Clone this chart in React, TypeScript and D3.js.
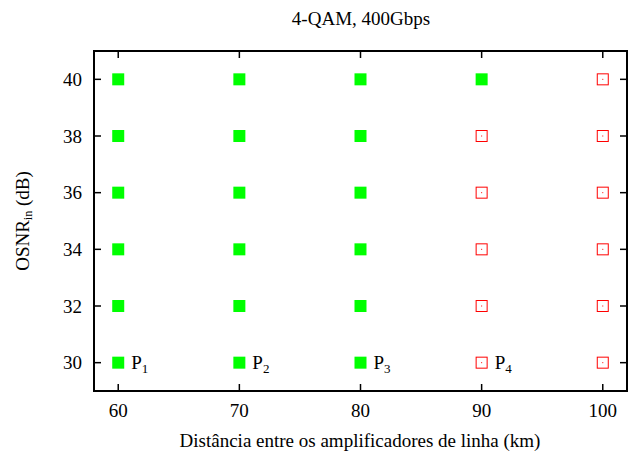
import React from "react";
import * as d3 from "d3";

const distances = [60, 70, 80, 90, 100];
const osnrLevels = [30, 32, 34, 36, 38, 40];
// lowest OSNR that still works at each distance (null = none)
const minWorkingOsnr = [30, 30, 30, 40, null];
const pointLabels = [
  { x: 60, y: 30, sub: "1" },
  { x: 70, y: 30, sub: "2" },
  { x: 80, y: 30, sub: "3" },
  { x: 90, y: 30, sub: "4" },
];

const W = 634;
const H = 452;
const margin = { top: 51, right: 7, bottom: 61, left: 94 };

export default function App() {
  const iw = W - margin.left - margin.right;
  const ih = H - margin.top - margin.bottom;
  const x = d3.scaleLinear().domain([58, 102]).range([0, iw]);
  const y = d3.scaleLinear().domain([29, 41]).range([ih, 0]);
  const font = "Liberation Serif, Times New Roman, Times, serif";
  const fs = 19;
  const s = 12;
  const tl = 7;

  const feasible: [number, number][] = [];
  const infeasible: [number, number][] = [];
  distances.forEach((dist, i) => {
    osnrLevels.forEach((o) => {
      const m = minWorkingOsnr[i];
      (m !== null && o >= m ? feasible : infeasible).push([dist, o]);
    });
  });

  return (
    <svg width={W} height={H} style={{ position: "absolute", left: 0, top: 0, fontFamily: font }}>
      <rect width={W} height={H} fill="#fff" />
      <text x={361} y={25} textAnchor="middle" fontSize={fs}>4-QAM, 400Gbps</text>
      <g transform={`translate(${margin.left},${margin.top})`}>
        {distances.map((d) => (
          <g key={d}>
            <line x1={x(d)} x2={x(d)} y1={ih} y2={ih - tl} stroke="#000" strokeWidth={1.5} />
            <line x1={x(d)} x2={x(d)} y1={0} y2={tl} stroke="#000" strokeWidth={1.5} />
            <text x={x(d)} y={ih + 26} textAnchor="middle" fontSize={fs}>{d}</text>
          </g>
        ))}
        {osnrLevels.map((o) => (
          <g key={o}>
            <line x1={0} x2={tl} y1={y(o)} y2={y(o)} stroke="#000" strokeWidth={1.5} />
            <line x1={iw} x2={iw - tl} y1={y(o)} y2={y(o)} stroke="#000" strokeWidth={1.5} />
            <text x={-12} y={y(o)} dy="0.35em" textAnchor="end" fontSize={fs}>{o}</text>
          </g>
        ))}
        <rect x={0} y={0} width={iw} height={ih} fill="none" stroke="#000" strokeWidth={2} />
        {feasible.map(([d, o]) => (
          <rect key={`f${d}-${o}`} x={x(d) - s / 2} y={y(o) - s / 2} width={s} height={s} fill="#00ff00" />
        ))}
        {infeasible.map(([d, o]) => (
          <g key={`i${d}-${o}`}>
            <rect x={x(d) - s / 2 + 0.5} y={y(o) - s / 2 + 0.5} width={s - 1} height={s - 1} fill="none" stroke="#ff0000" strokeWidth={1} />
            <rect x={x(d) - 0.5} y={y(o) - 0.5} width={1} height={1} fill="#ff0000" />
          </g>
        ))}
        {pointLabels.map((p) => (
          <text key={p.sub} x={x(p.x) + 13} y={y(p.y)} dy="0.35em" fontSize={fs}>
            P<tspan fontSize={13} dy={4}>{p.sub}</tspan>
          </text>
        ))}
      </g>
      <text x={360} y={447} textAnchor="middle" fontSize={fs}>Distância entre os amplificadores de linha (km)</text>
      <text transform={`translate(29, ${margin.top + ih / 2}) rotate(-90)`} textAnchor="middle" fontSize={fs}>
        OSNR<tspan fontSize={12} dy={3}>in</tspan><tspan dy={-3}> (dB)</tspan>
      </text>
    </svg>
  );
}
